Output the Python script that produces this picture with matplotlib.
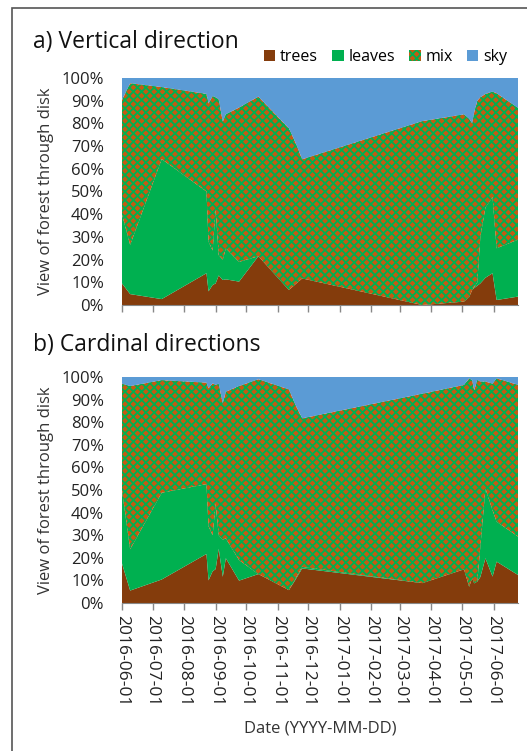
import numpy as np
import matplotlib
matplotlib.use("Agg")
import matplotlib.pyplot as plt
import matplotlib.dates as mdates
from matplotlib.patches import Patch, Rectangle
from datetime import datetime

plt.rcParams['font.family'] = ['Open Sans', 'DejaVu Sans']
plt.rcParams['hatch.linewidth'] = 1.3

dates = ['2016-06-01', '2016-06-09', '2016-07-10', '2016-08-23', '2016-08-25',
         '2016-08-29', '2016-09-01', '2016-09-04', '2016-09-08', '2016-09-11',
         '2016-09-24', '2016-10-13', '2016-11-12', '2016-11-18', '2016-11-25',
         '2017-03-23', '2017-05-03', '2017-05-08', '2017-05-11', '2017-05-13',
         '2017-05-16', '2017-05-19', '2017-05-24', '2017-05-31', '2017-06-04',
         '2017-06-25']

# a) vertical direction, in % of the disk
vert_trees = [9.5, 4.8, 2.6, 14.0, 6.0, 8.8, 9.5, 13.0, 11.0, 11.3,
              10.3, 21.5, 6.6, 9.0, 11.7, 0.0, 1.5, 3.5, 6.6, 7.5,
              8.5, 9.5, 12.0, 14.0, 2.2, 3.7]
vert_leaves = [30.5, 21.7, 61.7, 36.0, 22.0, 15.2, 33.0, 9.0, 9.0, 13.7,
               8.7, 0.0, 0.0, 0.0, 0.0, 0.0, 0.0, 0.0, 0.0, 0.5,
               1.5, 20.5, 31.0, 33.6, 22.8, 25.1]
vert_mix = [50.3, 71.2, 31.7, 43.0, 60.8, 68.0, 49.0, 68.6, 60.8, 59.0,
            68.0, 70.3, 71.2, 63.0, 52.5, 81.0, 82.5, 78.5, 73.4, 77.0,
            80.0, 61.5, 50.0, 46.4, 68.3, 58.0]

# b) cardinal directions, in % of the disk
card_trees = [17.5, 5.5, 10.4, 21.7, 10.0, 14.0, 15.0, 24.0, 11.6, 19.8,
              9.9, 12.8, 5.7, 10.0, 15.3, 8.8, 14.9, 7.2, 11.0, 8.7,
              9.5, 11.5, 19.8, 11.7, 18.3, 12.4]
card_leaves = [32.5, 18.3, 38.4, 30.9, 24.0, 16.0, 29.0, 6.0, 16.4, 8.8,
               9.1, 0.0, 0.0, 0.5, 0.7, 0.0, 0.0, 0.0, 0.0, 0.0,
               0.0, 13.5, 30.9, 29.3, 17.7, 17.0]
card_mix = [47.0, 72.2, 49.8, 44.9, 61.0, 67.2, 52.5, 67.0, 60.3, 64.9,
            77.0, 86.2, 88.8, 77.5, 65.7, 83.8, 81.6, 92.2, 87.5, 85.5,
            89.2, 73.0, 47.3, 56.0, 63.4, 67.1]

x_start = '2016-06-01'
x_end = '2017-06-25'

c_trees = '#843C0C'
c_leaves = '#00B050'
c_mix = '#C55A11'
c_sky = '#5B9BD5'

x = [datetime.strptime(d, '%Y-%m-%d') for d in dates]

fig = plt.figure(figsize=(5.27, 7.51), dpi=100)
fig.patches.append(Rectangle((12/527, -0.1), 1.2, 1 - 8/751 + 0.1, transform=fig.transFigure,
                             fill=False, edgecolor='#555555', linewidth=1.2))

ax1 = fig.add_axes([122/527, 1 - 305/751, 396/527, 227/751])
ax2 = fig.add_axes([122/527, 1 - 603/751, 396/527, 226/751])

def draw(ax, trees, leaves, mix):
    t = np.array(trees)
    l = t + np.array(leaves)
    m = l + np.array(mix)
    ax.fill_between(x, 0, t, facecolor=c_trees, linewidth=0)
    ax.fill_between(x, t, l, facecolor=c_leaves, linewidth=0)
    ax.fill_between(x, l, m, facecolor=c_mix, edgecolor=c_leaves, hatch='xxxx', linewidth=0)
    ax.fill_between(x, m, 100, facecolor=c_sky, linewidth=0)
    ax.set_ylim(0, 100)
    ax.set_xlim(datetime.strptime(x_start, '%Y-%m-%d'), datetime.strptime(x_end, '%Y-%m-%d'))
    ax.set_yticks(np.arange(0, 101, 10))
    ax.set_yticklabels([str(v) + '%' for v in range(0, 101, 10)])
    ax.tick_params(axis='y', length=0, pad=13, labelsize=12, colors='#222222')
    ax.tick_params(axis='x', direction='out', length=5, color='#888888', width=1)
    ax.xaxis.set_major_locator(mdates.MonthLocator(bymonthday=1))
    for s in ['top', 'right', 'left']:
        ax.spines[s].set_visible(False)
    ax.spines['bottom'].set_color('#888888')
    ax.set_ylabel('View of forest through disk', fontsize=12, color='#333333', labelpad=5)

draw(ax1, vert_trees, vert_leaves, vert_mix)
draw(ax2, card_trees, card_leaves, card_mix)

ax1.set_xticklabels([])
ax2.xaxis.set_major_formatter(mdates.DateFormatter('%Y-%m-%d'))
plt.setp(ax2.get_xticklabels(), rotation=-90, fontsize=12.5, color='#222222')
ax2.set_xlabel('Date (YYYY-MM-DD)', fontsize=12, color='#333333', labelpad=10)

fig.text(33/527, 1 - 42/751, 'a) Vertical direction', fontsize=16.5, va='center', ha='left', color='#111111')
fig.text(33/527, 1 - 345/751, 'b) Cardinal directions', fontsize=16.5, va='center', ha='left', color='#111111')

handles = [Patch(facecolor=c_trees), Patch(facecolor=c_leaves),
           Patch(facecolor=c_mix, edgecolor=c_leaves, hatch='xxxx', linewidth=0),
           Patch(facecolor=c_sky)]
fig.legend(handles, ['trees', 'leaves', 'mix', 'sky'], ncol=4, frameon=False,
           loc='center right', bbox_to_anchor=(515/527, 1 - 57/751), fontsize=11.5,
           handlelength=0.7, handleheight=0.7, handletextpad=0.3, columnspacing=0.9,
           borderpad=0)

fig.savefig('out.png', dpi=100)
